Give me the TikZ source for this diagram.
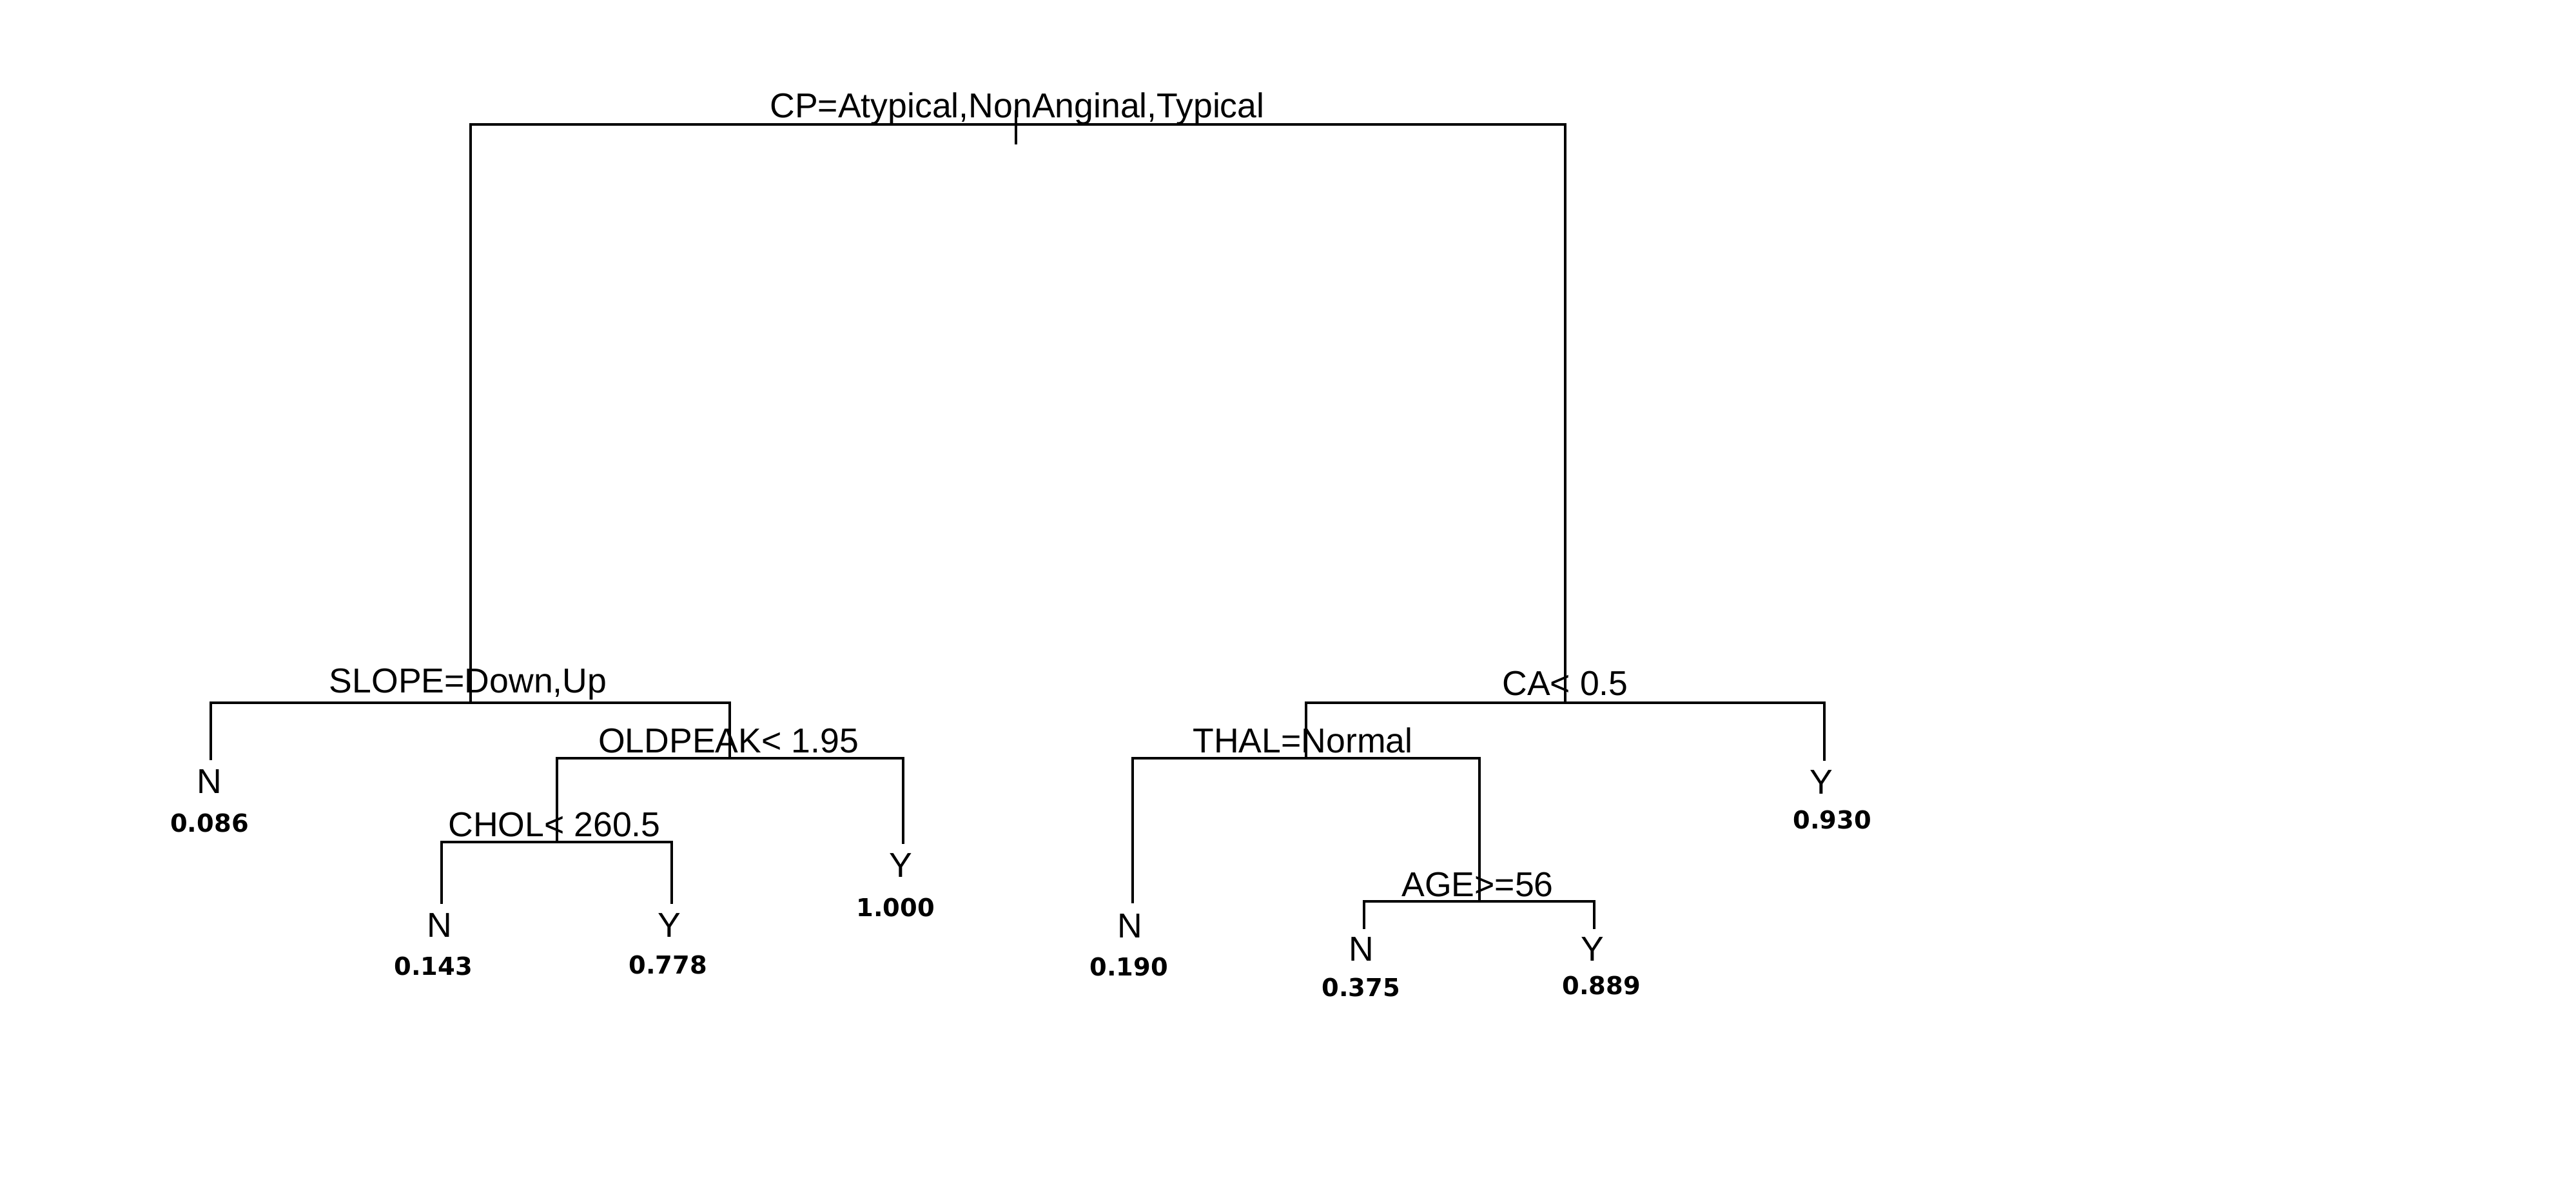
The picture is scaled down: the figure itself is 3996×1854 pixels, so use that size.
\documentclass[tikz,border=0pt]{standalone}
\usepackage{fontspec}
\setmainfont{Liberation Sans}
\newfontfamily\probfont{DejaVu Sans}
\begin{document}
\begin{tikzpicture}[x=0.25pt,y=-0.25pt,
  branch/.style={draw=black,line width=0.85pt,line cap=rect},
  splitlabel/.style={anchor=base,inner sep=0pt,font=\fontsize{13.4}{16}\selectfont},
  classlabel/.style={anchor=base,inner sep=0pt,font=\fontsize{13.4}{16}\selectfont},
  problabel/.style={anchor=base,inner sep=0pt,font=\probfont\bfseries\fontsize{9.6}{11}\selectfont}]
\useasboundingbox[fill=white] (0,0) rectangle (3996,1854);

% split points (on each split's horizontal bar)
\coordinate (root) at (1576,193);
\coordinate (rootTop) at (1576,173);
\coordinate (rootTick) at (1576,222);
\coordinate (slope) at (730,1090);
\coordinate (oldpeak) at (1132,1176);
\coordinate (chol) at (864,1306);
\coordinate (ca) at (2428,1090);
\coordinate (thal) at (2026,1176);
\coordinate (age) at (2295,1398);

% leaf ends
\coordinate (leafA) at (327,1177);
\coordinate (leafB) at (685,1400);
\coordinate (leafC) at (1042,1400);
\coordinate (leafD) at (1401,1307);
\coordinate (leafE) at (1757,1399);
\coordinate (leafF) at (2116,1439);
\coordinate (leafG) at (2473,1439);
\coordinate (leafH) at (2830,1178);

% branches
\draw[branch] (rootTop) -- (rootTick);
\draw[branch] (slope) |- (root) -| (ca);
\draw[branch] (leafA) |- (slope) -| (oldpeak);
\draw[branch] (chol) |- (oldpeak) -| (leafD);
\draw[branch] (leafB) |- (chol) -| (leafC);
\draw[branch] (thal) |- (ca) -| (leafH);
\draw[branch] (leafE) |- (thal) -| (age);
\draw[branch] (leafF) |- (age) -| (leafG);

% split labels
\node[splitlabel] (lblRoot) at (1578,182) {CP=Atypical,NonAnginal,Typical};
\node[splitlabel] (lblSlope) at (726,1074) {SLOPE=Down,Up};
\node[splitlabel] (lblOldpeak) at (1130,1167) {OLDPEAK< 1.95};
\node[splitlabel] (lblChol) at (860,1297) {CHOL< 260.5};
\node[splitlabel] (lblCa) at (2428,1078) {CA< 0.5};
\node[splitlabel] (lblThal) at (2021,1167) {THAL=Normal};
\node[splitlabel] (lblAge) at (2292,1390) {AGE>=56};

% leaf classes
\node[classlabel] (clsA) at (325,1230) {N};
\node[classlabel] (clsB) at (682,1453) {N};
\node[classlabel] (clsC) at (1038,1453) {Y};
\node[classlabel] (clsD) at (1397,1360) {Y};
\node[classlabel] (clsE) at (1753,1454) {N};
\node[classlabel] (clsF) at (2112,1490) {N};
\node[classlabel] (clsG) at (2470,1490) {Y};
\node[classlabel] (clsH) at (2825,1231) {Y};

% leaf probabilities
\node[problabel] (prA) at (325,1290) {0.086};
\node[problabel] (prB) at (672,1512) {0.143};
\node[problabel] (prC) at (1036,1510) {0.778};
\node[problabel] (prD) at (1389,1421) {1.000};
\node[problabel] (prE) at (1751,1513) {0.190};
\node[problabel] (prF) at (2111,1545) {0.375};
\node[problabel] (prG) at (2484,1542) {0.889};
\node[problabel] (prH) at (2842,1285) {0.930};
\end{tikzpicture}
\end{document}
